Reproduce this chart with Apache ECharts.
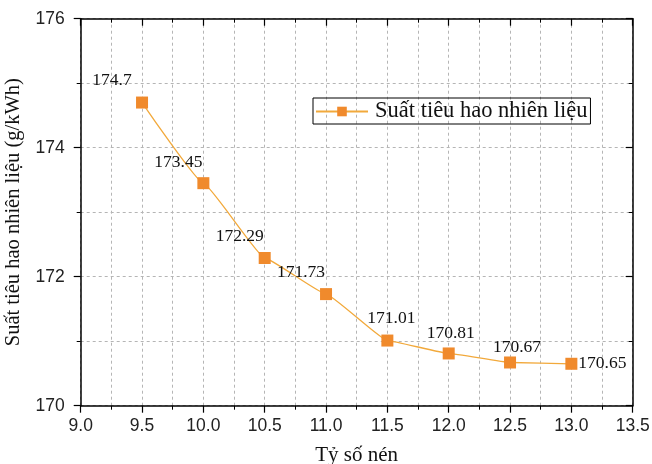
<!DOCTYPE html>
<html>
<head>
<meta charset="utf-8">
<script src="https://cdn.jsdelivr.net/npm/echarts@6/dist/echarts.min.js"></script>
<style>
  html, body { margin: 0; padding: 0; background: #fff; }
  #chart { width: 652px; height: 464px; }
</style>
</head>
<body>
<div id="chart"></div>
<script>
// Tỷ số nén (compression ratio) and specific fuel consumption (g/kWh)
var compressionRatio = [9.5, 10.0, 10.5, 11.0, 11.5, 12.0, 12.5, 13.0];
var fuelConsumption = [174.7, 173.45, 172.29, 171.73, 171.01, 170.81, 170.67, 170.65];
var seriesName = 'Suất tiêu hao nhiên liệu';
var xTitle = 'Tỷ số nén';
var yTitle = 'Suất tiêu hao nhiên liệu (g/kWh)';

// label centre relative to the marker centre (pixels)
var labelShift = [[-30, -22], [-25, -21], [-25, -22], [-25, -22], [4, -22], [2, -20], [7, -15], [31, 0]];
var markerSize = 12;

var serif = '"Liberation Serif", "Times New Roman", serif';
var sans = '"Liberation Sans", Arial, sans-serif';
var gridDash = { color: '#b5b5b5', type: [3, 3], width: 1 };

var points = compressionRatio.map(function (x, i) {
  return {
    value: [x, fuelConsumption[i]],
    label: {
      position: [markerSize / 2 + labelShift[i][0], markerSize / 2 + labelShift[i][1]],
      align: 'center',
      verticalAlign: 'middle'
    }
  };
});

function frameAxis(pos, min, max, interval) {
  return {
    type: 'value', min: min, max: max, interval: interval, position: pos,
    axisLine: { show: true, onZero: false, lineStyle: { color: '#000', width: 1.5 } },
    axisTick: { show: true, inside: true, length: 7, lineStyle: { color: '#000', width: 1.2 } },
    minorTick: { show: true, splitNumber: 2, length: 4, lineStyle: { color: '#000', width: 1 } },
    axisLabel: { show: false }, splitLine: { show: false }
  };
}

var chart = echarts.init(document.getElementById('chart'), null, { renderer: 'canvas' });
chart.setOption({
  backgroundColor: '#fff',
  animation: false,
  grid: { left: 80.7, right: 19.3, top: 18.7, bottom: 58.3, containLabel: false, outerBoundsMode: 'none' },
  legend: {
    data: [seriesName],
    left: 313, top: 98,
    padding: [2, 3, 1, 2],
    borderColor: '#000', borderWidth: 1,
    itemWidth: 52, itemHeight: 12,
    textStyle: { fontFamily: serif, fontSize: 22.5, color: '#111', padding: [0, 0, 0, 2] }
  },
  xAxis: [{
    type: 'value', min: 9, max: 13.5, interval: 0.5,
    name: xTitle, nameLocation: 'middle', nameGap: 39,
    nameTextStyle: { fontFamily: serif, fontSize: 21, color: '#111' },
    axisLine: { show: true, onZero: false, lineStyle: { color: '#000', width: 1.5 } },
    axisTick: { show: true, length: 7, lineStyle: { color: '#000', width: 1.2 } },
    minorTick: { show: true, splitNumber: 2, length: 4, lineStyle: { color: '#000', width: 1 } },
    axisLabel: { fontFamily: sans, fontSize: 17.5, color: '#222', margin: 11,
      formatter: function (v) { return v.toFixed(1); } },
    splitLine: { show: true, lineStyle: gridDash },
    minorSplitLine: { show: true, lineStyle: gridDash }
  }, frameAxis('top', 9, 13.5, 0.5)],
  yAxis: [{
    type: 'value', min: 170, max: 176, interval: 2,
    name: yTitle, nameLocation: 'middle', nameGap: 46,
    nameTextStyle: { fontFamily: serif, fontSize: 20.5, color: '#111' },
    axisLine: { show: true, onZero: false, lineStyle: { color: '#000', width: 1.5 } },
    axisTick: { show: true, length: 7, lineStyle: { color: '#000', width: 1.2 } },
    minorTick: { show: true, splitNumber: 2, length: 4, lineStyle: { color: '#000', width: 1 } },
    axisLabel: { fontFamily: sans, fontSize: 17.5, color: '#222', margin: 16 },
    splitLine: { show: true, lineStyle: gridDash },
    minorSplitLine: { show: true, lineStyle: gridDash }
  }, frameAxis('right', 170, 176, 2)],
  series: [{
    name: seriesName,
    type: 'line',
    data: points,
    smooth: 0.1,
    smoothMonotone: 'x',
    symbol: 'rect',
    symbolSize: markerSize,
    showAllSymbol: true,
    lineStyle: { color: '#F2A93B', width: 1.3 },
    itemStyle: { color: '#F08A2C', borderWidth: 0 },
    label: {
      show: true,
      fontFamily: serif, fontSize: 17.5, color: '#111',
      formatter: function (p) { return String(p.value[1]); }
    },
    labelLayout: { hideOverlap: false },
    z: 5
  }]
});
</script>
</body>
</html>
